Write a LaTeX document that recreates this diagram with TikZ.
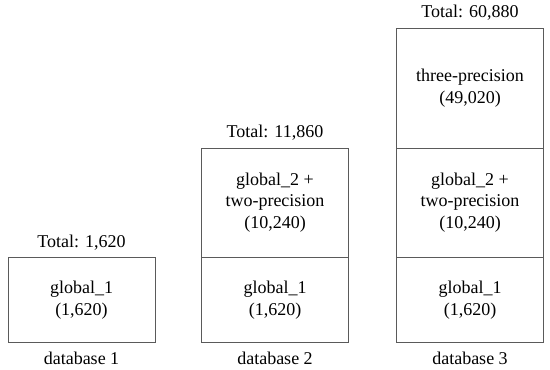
\documentclass[tikz,border=0pt]{standalone}
\usepackage{fontspec}
\setmainfont{Liberation Serif}
\usetikzlibrary{positioning}
\definecolor{lc}{RGB}{90,90,90}
\tikzset{cell/.style={draw=lc,line width=.9pt,minimum width=147pt,align=center,inner sep=0pt},
 c1/.style={cell,minimum height=85pt},c2/.style={cell,minimum height=109pt},c3/.style={cell,minimum height=120pt},
 lab/.style={inner sep=0pt},
 every node/.style={font=\fontsize{18}{21.5}\selectfont}}
\begin{document}
\begin{tikzpicture}[x=1pt,y=-1pt]
\useasboundingbox (0,0) rectangle (550,370);
\node[c1] (a1) at (81.5,300) {global\_1\\(1,620)};
\node[c1] (b1) at (275,300) {global\_1\\(1,620)};\node[c2] (b2) at (275,202.5) {global\_2 +\\two-precision\\(10,240)};
\node[c1] (d1) at (470,300) {global\_1\\(1,620)};\node[c2] (d2) at (470,202.5) {global\_2 +\\two-precision\\(10,240)};
\node[c3] (d3) at (470,88) {three-precision\\(49,020)};
\node[lab,above=7pt of a1] (ta) {Total: 1,620};
\node[lab,above=7pt of b2] (tb) {Total: 11,860};
\node[lab,above=7pt of d3] (td) {Total: 60,880};
\foreach \n/\k in {a1/1,b1/2,d1/3}{\node[lab,below=9pt of \n] (db\k) {database \k};}
\end{tikzpicture}
\end{document}
